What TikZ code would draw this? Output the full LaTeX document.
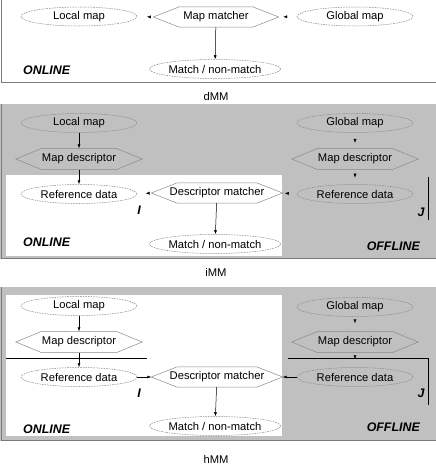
\documentclass[tikz,border=0pt]{standalone}
\usepackage{fontspec}
\setmainfont{Liberation Sans}
\usetikzlibrary{arrows.meta,shapes.geometric,decorations.markings}
\definecolor{panelgray}{HTML}{C0C0C0}
\definecolor{edgegray}{HTML}{7A7A7A}
\definecolor{shapegray}{HTML}{8A8A8A}
\tikzset{
  ell/.style={ellipse, draw=shapegray, dash pattern=on 1.6pt off 1pt, line width=0.5pt,
    minimum width=116pt, minimum height=19pt, inner sep=0pt, font=\fontsize{11.2}{13}\selectfont},
  hexa/.style={rectangle, minimum width=126pt, minimum height=21pt, inner sep=0pt,
    font=\fontsize{11.2}{13}\selectfont},
  hexline/.style={draw=shapegray, line width=0.5pt},
  arr/.style={-{Latex[length=4pt,width=3pt]}, line width=0.5pt},
  tiponly/.style={decoration={markings, mark=at position #1 with {\arrow{Latex[length=4pt,width=3pt]}}}, postaction={decorate}},
  tag/.style={font=\fontsize{12.4}{14}\selectfont\bfseries\itshape, inner sep=0pt},
  caption/.style={font=\fontsize{11.2}{13}\selectfont, inner sep=0pt},
  frameline/.style={draw=edgegray, line width=1pt},
  thinline/.style={draw=black, line width=0.5pt}
}
\newcommand{\hexframe}[1]{\draw[hexline] (#1.west) -- ([xshift=26pt]#1.north west) -- ([xshift=-26pt]#1.north east) -- (#1.east) -- ([xshift=-26pt]#1.south east) -- ([xshift=26pt]#1.south west) -- cycle;}
\begin{document}
\begin{tikzpicture}[x=1pt,y=-1pt]
\useasboundingbox (0,0) rectangle (436,466);
% ---------- panel 1: dMM ----------
\fill[white] (0,0) rectangle (436,82);
\draw[frameline] (1,0) -- (1,82.5) -- (436,82.5);
\node[ell] (a1) at (79,16.5) {Local map};
\node[hexa, minimum width=125pt, minimum height=20pt] (a2) at (216,17) {Map matcher};
\hexframe{a2}
\node[ell] (a3) at (355,16.5) {Global map};
\node[ell] (a4) at (215,69) {Match / non-match};
\node[tag, anchor=west] (a5) at (23,70) {ONLINE};
\node[caption] (a6) at (216,96) {dMM};
\draw[arr] (a2) -- (a4);
\path[tiponly=0.4] (a2.west) -- (a1.east);
\path[tiponly=0.75] (a3.west) -- (a2.east);
% ---------- panel 2: iMM ----------
\fill[panelgray] (0,104) rectangle (436,259);
\fill[white] (6,175) rectangle (282,256);
\draw[frameline] (1,104) -- (1,258.5) -- (436,258.5);
\node[ell] (b1) at (79,123) {Local map};
\node[hexa] (b2) at (79,159) {Map descriptor};
\hexframe{b2}
\node[ell] (b3) at (79,194) {Reference data};
\node[hexa, minimum width=131pt, minimum height=20pt] (b4) at (217,193) {Descriptor matcher};
\hexframe{b4}
\node[ell] (b5) at (215,244) {Match / non-match};
\node[ell] (b6) at (355,123) {Global map};
\node[hexa] (b7) at (355,159) {Map descriptor};
\hexframe{b7}
\node[ell] (b8) at (355,194) {Reference data};
\node[tag, anchor=west] (b9) at (23,242) {ONLINE};
\node[tag, anchor=east] (b10) at (420,246) {OFFLINE};
\node[tag] (b11) at (139,210) {I};
\node[tag] (b12) at (421,212) {J};
\node[caption] (b13) at (216,272) {iMM};
\draw[arr] (b1) -- (b2);
\draw[arr] (b2) -- (b3);
\draw[arr] (b4) -- (b5);
\path[tiponly=0.4] (b4.west) -- (b3.east);
\path[tiponly=0.85] (b8.west) -- (b4.east);
\path[tiponly=0.65] (b6.south) -- (b7.north);
\path[tiponly=0.55] (b7.south) -- (b8.north);
\draw[thinline] (428.5,177) -- (428.5,220);
% ---------- panel 3: hMM ----------
\fill[panelgray] (0,287) rectangle (436,441);
\fill[white] (6,295) rectangle (282,436);
\draw[frameline] (1,287) -- (1,440.5) -- (436,440.5);
\node[ell] (c1) at (79,306) {Local map};
\node[hexa] (c2) at (79,342) {Map descriptor};
\hexframe{c2}
\node[ell] (c3) at (79,377) {Reference data};
\node[hexa, minimum width=131pt, minimum height=20pt] (c4) at (217,377) {Descriptor matcher};
\hexframe{c4}
\node[ell] (c5) at (215,426) {Match / non-match};
\node[ell] (c6) at (355,307) {Global map};
\node[hexa] (c7) at (355,342) {Map descriptor};
\hexframe{c7}
\node[ell] (c8) at (355,377) {Reference data};
\node[tag, anchor=west] (c9) at (23,429) {ONLINE};
\node[tag, anchor=east] (c10) at (420,427) {OFFLINE};
\node[tag] (c11) at (139,393) {I};
\node[tag] (c12) at (421,393) {J};
\node[caption] (c13) at (216,459) {hMM};
\draw[arr] (c1) -- (c2);
\draw[arr] (c2) -- (c3);
\draw[arr] (c4) -- (c5);
\draw[arr] (c3) -- (c4);
\draw[arr] (c8) -- (c4);
\path[tiponly=0.45] (c6.south) -- (c7.north);
\path[tiponly=0.45] (c7.south) -- (c8.north);
\draw[thinline] (6,358.5) -- (147,358.5);
\draw[thinline] (288,358.5) -- (428.5,358.5) -- (428.5,405);
\end{tikzpicture}
\end{document}
